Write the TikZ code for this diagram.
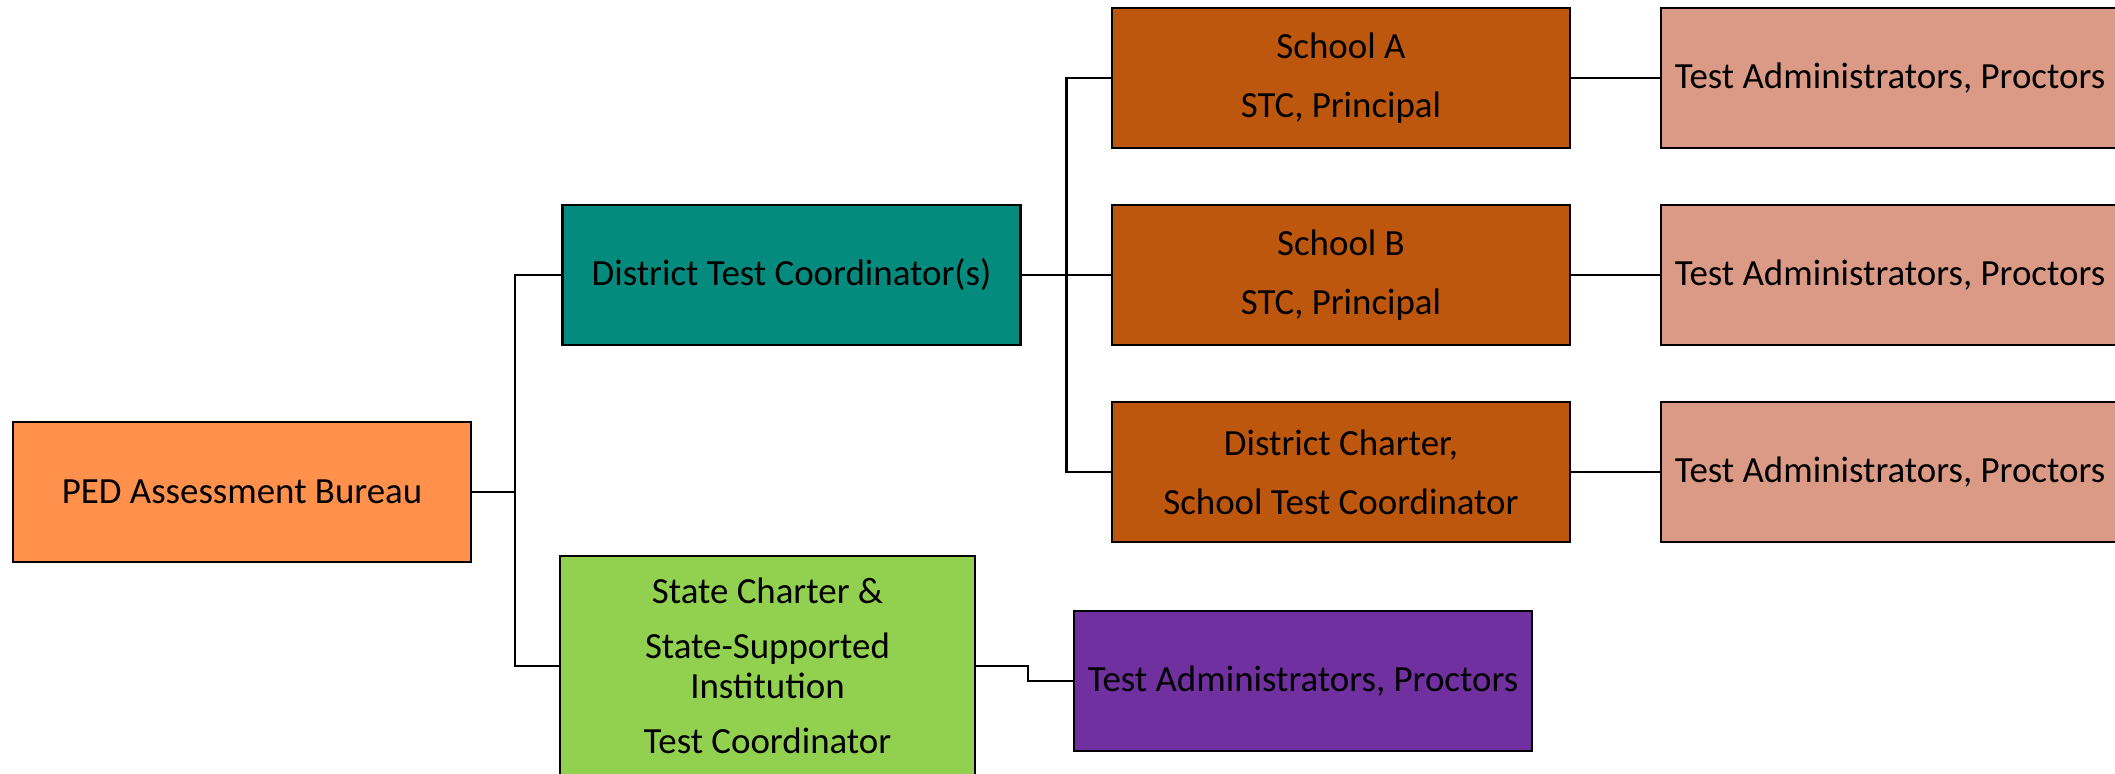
\documentclass[tikz,border=0pt]{standalone}
\usepackage{fontspec}
\setmainfont{Carlito}
\definecolor{pedorange}{HTML}{FF914D}
\definecolor{dtcteal}{HTML}{058A7E}
\definecolor{schoolbrown}{HTML}{BE570E}
\definecolor{tapink}{HTML}{DB9A86}
\definecolor{stategreen}{HTML}{92D050}
\definecolor{tapurple}{HTML}{7030A0}
\begin{document}
\begin{tikzpicture}[
font=\fontsize{10.5}{11.5}\selectfont,
box/.style ={rectangle, draw=black, line width=0.8pt,
  minimum width=4.58cm, minimum height=1.4cm,
  align=center, inner sep=0pt
},
link/.style ={draw=black, line width=0.7pt}]
\useasboundingbox (0,0) rectangle (21.15,7.74);
\clip (0,0) rectangle (21.15,7.74);

\node (ped) at (2.42,2.82) [box, fill=pedorange] {PED Assessment Bureau};
\node (dtc) at (7.915,4.99) [box, fill=dtcteal] {District Test Coordinator(s)};
\node (state) at (7.675,1.08) [box, fill=stategreen, minimum width=4.15cm,
  minimum height=2.2cm] {State Charter \&\\[4pt] State-Supported\\ Institution\\[4pt] Test Coordinator};

\node (sa) at (13.41,6.96) [box, fill=schoolbrown] {School A\\[5.3pt] STC, Principal};
\node (sb) at (13.41,4.99) [box, fill=schoolbrown] {School B\\[5.3pt] STC, Principal};
\node (dc) at (13.41,3.02) [box, fill=schoolbrown] {District Charter,\\[5.3pt] School Test Coordinator};

\node (ta1) at (18.90,6.96) [box, fill=tapink] {Test Administrators, Proctors};
\node (ta2) at (18.90,4.99) [box, fill=tapink] {Test Administrators, Proctors};
\node (ta3) at (18.90,3.02) [box, fill=tapink] {Test Administrators, Proctors};
\node (ta4) at (13.03,0.93) [box, fill=tapurple] {Test Administrators, Proctors};

\coordinate (j1) at (5.15,2.82);
\coordinate (j2) at (10.665,4.99);
\coordinate (j3) at (10.28,1.08);

\path[link] (ped.east) -- (j1) |- (dtc.west);
\path[link] (j1) |- (state.west);
\path[link] (dtc.east) -- (j2);
\path[link] (j2) |- (sa.west);
\path[link] (j2) -- (sb.west);
\path[link] (j2) |- (dc.west);
\path[link] (sa.east) -- (ta1.west);
\path[link] (sb.east) -- (ta2.west);
\path[link] (dc.east) -- (ta3.west);
\path[link] (state.east) -- (j3) |- (ta4.west);
\end{tikzpicture}
\end{document}
